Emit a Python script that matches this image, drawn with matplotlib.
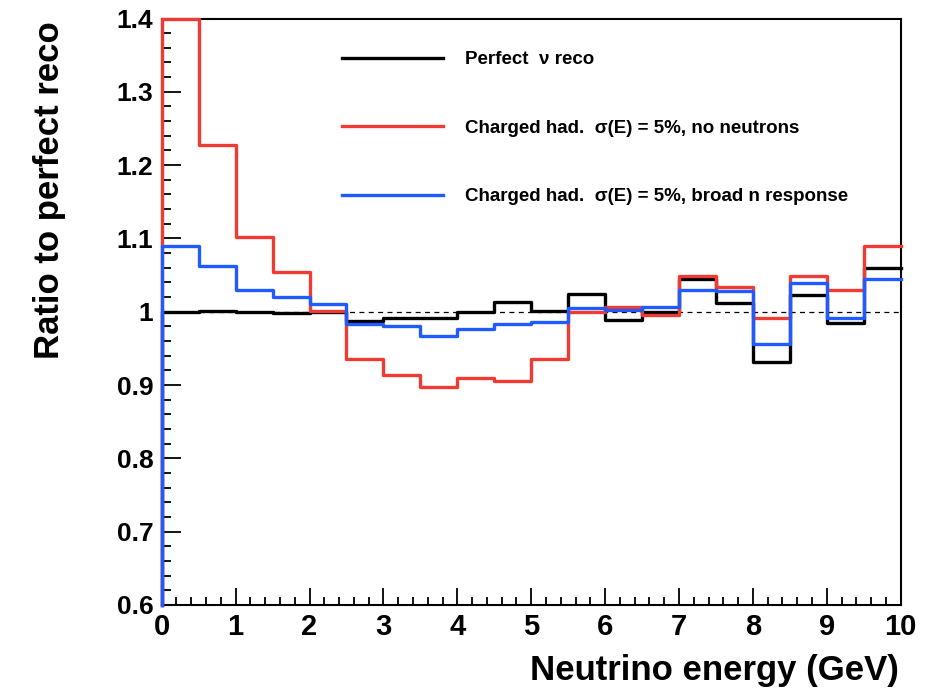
import numpy as np
import matplotlib
matplotlib.use("Agg")
import matplotlib.pyplot as plt
from matplotlib.ticker import MultipleLocator, FuncFormatter

plt.rcParams['font.family'] = ['Liberation Sans', 'DejaVu Sans']
plt.rcParams['font.weight'] = 'bold'

# Bin edges (GeV) and ratio values per 0.5 GeV bin
bin_edges = np.arange(0, 10.01, 0.5)
perfect = [1.000, 1.001, 1.000, 0.998, 0.999, 0.987, 0.992, 0.991, 1.000, 1.013,
           1.001, 1.024, 0.989, 0.999, 1.044, 1.012, 0.932, 1.023, 0.984, 1.059]
no_neutrons = [1.400, 1.227, 1.102, 1.054, 1.001, 0.935, 0.914, 0.898, 0.910, 0.905,
               0.936, 0.999, 1.007, 0.996, 1.049, 1.034, 0.992, 1.049, 1.030, 1.090]
broad_n = [1.090, 1.063, 1.030, 1.020, 1.011, 0.983, 0.980, 0.967, 0.977, 0.983,
           0.986, 1.005, 1.002, 1.006, 1.030, 1.028, 0.956, 1.039, 0.991, 1.044]

labels = ["Perfect  \u03bd reco",
          "Charged had.  \u03c3(E) = 5%, no neutrons",
          "Charged had.  \u03c3(E) = 5%, broad n response"]
colors = ["#000000", "#ee3b33", "#1f5bff"]

ymin, ymax = 0.6, 1.4
xmin, xmax = 0.0, 10.0

fig = plt.figure(figsize=(9.38, 6.97), dpi=100)
ax = fig.add_axes([161.7/938, 1 - 605/697, (900.7-161.7)/938, (605-18.5)/697])

def hist_line(vals):
    v = np.asarray(vals)
    x = np.concatenate([[bin_edges[0]], bin_edges])
    y = np.concatenate([[ymin], v, [v[-1]]])
    return x, y

handles = []
for vals, c, lab in zip([perfect, no_neutrons, broad_n], colors, labels):
    x, y = hist_line(vals)
    ln, = ax.step(x, y, where='post', color=c, lw=2.4, zorder=3,
                  clip_on=False, label=lab)
    handles.append(ln)

ax.axhline(1.0, color='black', lw=0.9, ls=(0, (4, 3.5)), zorder=2)

ax.set_xlim(xmin, xmax)
ax.set_ylim(ymin, ymax)

for s in ax.spines.values():
    s.set_linewidth(1.5)
    s.set_zorder(2.5)

ax.xaxis.set_major_locator(MultipleLocator(1))
ax.xaxis.set_minor_locator(MultipleLocator(0.2))
ax.yaxis.set_major_locator(MultipleLocator(0.1))
ax.yaxis.set_minor_locator(MultipleLocator(0.02))
ax.yaxis.set_major_formatter(FuncFormatter(lambda v, p: f"{v:g}"))
ax.xaxis.set_major_formatter(FuncFormatter(lambda v, p: f"{v:g}"))

ax.tick_params(axis='x', which='major', direction='in', length=12.5, width=1.3,
               labelsize=21, pad=6, top=False)
ax.tick_params(axis='x', which='minor', direction='in', length=6, width=1.3, top=False)
ax.tick_params(axis='y', which='major', direction='in', length=13.5, width=1.3,
               labelsize=19, pad=6, right=False)
ax.tick_params(axis='y', which='minor', direction='in', length=6.5, width=1.3, right=False)
for t in ax.get_xticklabels() + ax.get_yticklabels():
    t.set_fontweight('bold')

ax.set_xlabel("Neutrino energy (GeV)", fontsize=25, fontweight='bold', ha='right', va='top')
ax.xaxis.set_label_coords(0.997, -0.083)
ax.set_ylabel("Ratio to perfect reco", fontsize=25, fontweight='bold', ha='right', va='bottom')
ax.yaxis.set_label_coords(-0.13, 0.995)

leg = ax.legend(handles=handles, loc='upper left', bbox_to_anchor=(0.2436, 0.944),
                frameon=False, fontsize=13.5, handlelength=5.4, handletextpad=1.2,
                labelspacing=2.74, borderpad=0, borderaxespad=0)
for t in leg.get_texts():
    t.set_fontweight('bold')

fig.savefig("out.png", dpi=100)
